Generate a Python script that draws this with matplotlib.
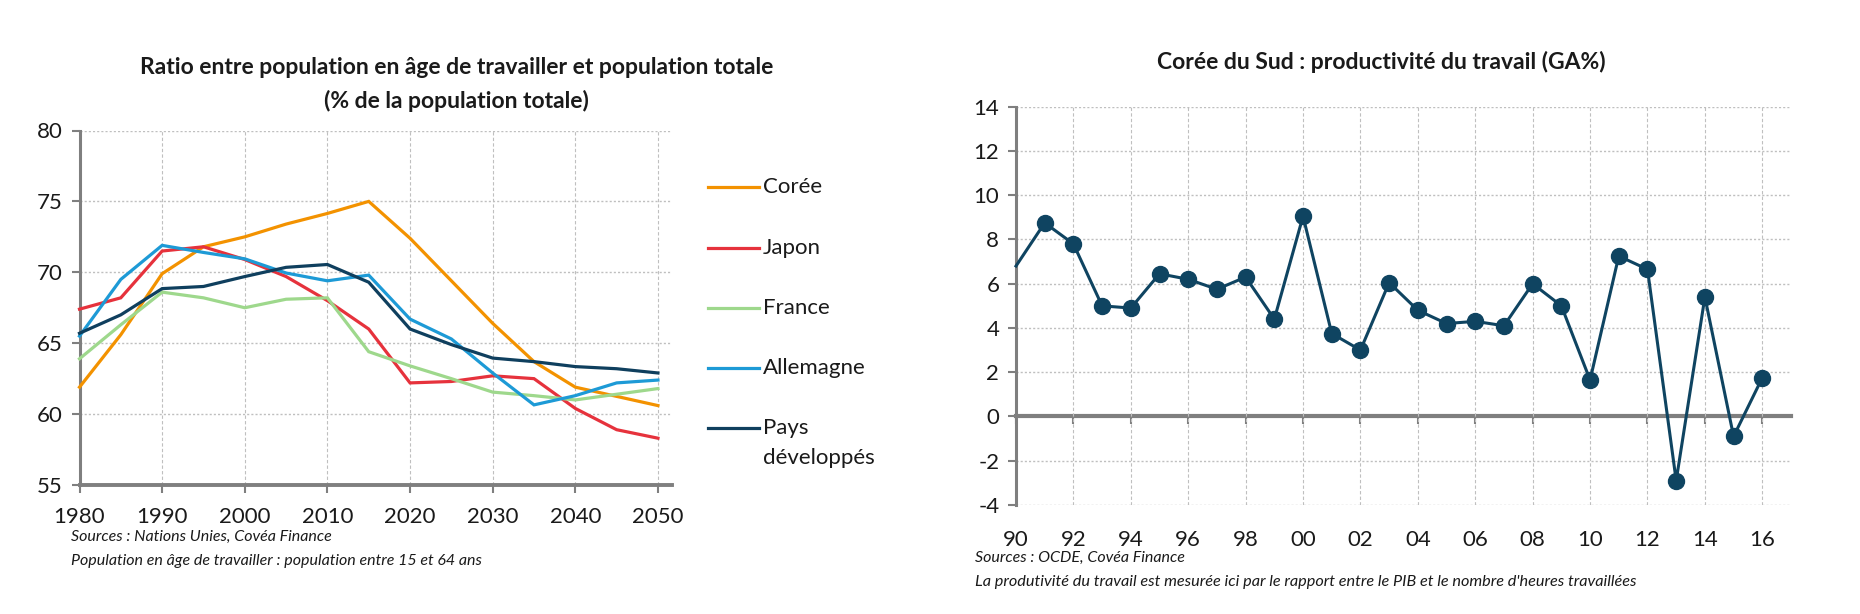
import matplotlib
matplotlib.use("Agg")
import matplotlib.pyplot as plt
from matplotlib.lines import Line2D

plt.rcParams['font.family'] = ['Lato', 'DejaVu Sans']
plt.rcParams['axes.unicode_minus'] = False

# ---- Left chart data ----
years_left = [1980, 1985, 1990, 1995, 2000, 2005, 2010, 2015, 2020, 2025, 2030, 2035, 2040, 2045, 2050]
coree = [61.9, 65.6, 69.9, 71.8, 72.5, 73.4, 74.15, 75.0, 72.4, 69.4, 66.4, 63.7, 61.9, 61.25, 60.6]
japon = [67.4, 68.2, 71.5, 71.8, 70.9, 69.7, 68.0, 66.0, 62.2, 62.3, 62.7, 62.5, 60.4, 58.9, 58.3]
france = [63.9, 66.3, 68.6, 68.2, 67.5, 68.1, 68.2, 64.4, 63.4, 62.5, 61.55, 61.3, 61.0, 61.4, 61.8]
allemagne = [65.5, 69.5, 71.9, 71.4, 70.95, 69.95, 69.4, 69.8, 66.7, 65.3, 62.9, 60.65, 61.3, 62.2, 62.4]
pays_dev = [65.7, 67.0, 68.85, 69.0, 69.7, 70.35, 70.55, 69.3, 66.0, 64.9, 63.95, 63.7, 63.35, 63.2, 62.9]
series_names = ["Corée", "Japon", "France", "Allemagne", "Pays\ndéveloppés"]
series_colors = ["#F39200", "#E6323C", "#9ED88C", "#1D9AD6", "#0F3F5E"]
left_xticks = [1980, 1990, 2000, 2010, 2020, 2030, 2040, 2050]
left_yticks = [55, 60, 65, 70, 75, 80]

# ---- Right chart data ----
years_right = list(range(1990, 2017))
productivite = [6.8, 8.75, 7.8, 5.0, 4.9, 6.45, 6.2, 5.75, 6.3, 4.4, 9.05, 3.75, 3.0,
                6.05, 4.8, 4.2, 4.3, 4.1, 6.0, 5.0, 1.65, 7.25, 6.65, -2.9, 5.4, -0.9, 1.75]
right_xticks = list(range(1990, 2017, 2))
right_xlabels = ["90", "92", "94", "96", "98", "00", "02", "04", "06", "08", "10", "12", "14", "16"]
right_yticks = list(range(-4, 15, 2))

W, H = 1860, 614
fig = plt.figure(figsize=(W / 100, H / 100), dpi=100)
fig.patch.set_facecolor("white")

grey = "#7F7F7F"
gridc = "#BFBFBF"
txt = "#1A1A1A"

# ================= LEFT =================
axL = fig.add_axes([79.5 / W, 1 - 485 / H, (672 - 79.5) / W, (485 - 130.5) / H])
for name, vals, col in zip(series_names, [coree, japon, france, allemagne, pays_dev], series_colors):
    axL.plot(years_left, vals, color=col, lw=2.3, solid_joinstyle="miter", zorder=3, clip_on=False)
axL.set_xlim(1980, 2051.7)
axL.set_ylim(55, 80)
axL.set_xticks(left_xticks)
axL.set_yticks(left_yticks)
for y in left_yticks[1:]:
    axL.axhline(y, color=gridc, lw=1.0, ls=(0, (1.5, 1.5)), zorder=1)
for x in left_xticks[1:]:
    axL.axvline(x, color=gridc, lw=0.8, ls=(0, (3, 2)), zorder=1)
for s in ["top", "right"]:
    axL.spines[s].set_visible(False)
axL.spines["left"].set_color(grey)
axL.spines["left"].set_linewidth(2.2)
axL.spines["bottom"].set_color(grey)
axL.spines["bottom"].set_linewidth(2.8)
axL.tick_params(axis="both", colors=grey, length=6, width=1.5, labelcolor=txt, labelsize=16)
axL.tick_params(axis="x", pad=10)
axL.tick_params(axis="y", pad=6)

fig.text(456.6 / W, 1 - 67.6 / H, "Ratio entre population en âge de travailler et population totale",
         ha="center", va="center", fontsize=16.5, fontweight="bold", color=txt)
fig.text(456.6 / W, 1 - 100.8 / H, "(% de la population totale)",
         ha="center", va="center", fontsize=16.5, fontweight="bold", color=txt)

# manual legend
leg_y = [187, 248, 308, 368, 428]
for name, col, yy in zip(series_names, series_colors, leg_y):
    fy = 1 - yy / H
    fig.add_artist(Line2D([708 / W, 759 / W], [fy, fy], color=col, lw=2.3))
    lines = name.split("\n")
    for i, ln in enumerate(lines):
        fig.text(763 / W, 1 - (yy + i * 30) / H, ln, ha="left", va="center", fontsize=16, color=txt)

fig.text(71 / W, 1 - 537 / H, "Sources : Nations Unies, Covéa Finance", ha="left", va="center",
         fontsize=11.5, style="italic", color=txt)
fig.text(71 / W, 1 - 561 / H, "Population en âge de travailler : population entre 15 et 64 ans",
         ha="left", va="center", fontsize=11.5, style="italic", color=txt)

# ================= RIGHT =================
axR = fig.add_axes([1016 / W, 1 - 505 / H, (1791 - 1016) / W, (505 - 106.7) / H])
axR.set_xlim(1990, 2017)
axR.set_ylim(-4, 14)
for y in right_yticks:
    if y != 0:
        axR.axhline(y, color=gridc, lw=1.0, ls=(0, (1.5, 1.5)), zorder=1)
for x in right_xticks[1:]:
    axR.axvline(x, color=gridc, lw=0.8, ls=(0, (3, 2)), zorder=1)
axR.plot(years_right, productivite, color="#0F4461", lw=2.2, marker="o", ms=11.5,
         markevery=list(range(1, len(years_right))), zorder=4, clip_on=False)
axR.set_xticks(right_xticks)
axR.set_xticklabels(right_xlabels)
axR.set_yticks(right_yticks)
for s in ["top", "right", "bottom"]:
    axR.spines[s].set_visible(False)
axR.spines["left"].set_color(grey)
axR.spines["left"].set_linewidth(2.2)
axR.tick_params(axis="y", colors=grey, length=6, width=1.5, labelcolor=txt, labelsize=16, pad=6)
axR.tick_params(axis="x", length=0, labelcolor=txt, labelsize=16, pad=18)

sec = axR.secondary_xaxis(4 / 18)
sec.set_xticks(right_xticks)
sec.tick_params(axis="x", colors=grey, length=6, width=1.5, labelbottom=False)
sec.spines["bottom"].set_color(grey)
sec.spines["bottom"].set_linewidth(3.0)

fig.text(1381.7 / W, 1 - 61.7 / H, "Corée du Sud : productivité du travail (GA%)",
         ha="center", va="center", fontsize=16.5, fontweight="bold", color=txt)
fig.text(975 / W, 1 - 558 / H, "Sources : OCDE, Covéa Finance", ha="left", va="center",
         fontsize=11.5, style="italic", color=txt)
fig.text(975 / W, 1 - 582 / H,
         "La produtivité du travail est mesurée ici par le rapport entre le PIB et le nombre d'heures travaillées",
         ha="left", va="center", fontsize=11.7, style="italic", color=txt)

fig.savefig("out.png", dpi=100, facecolor="white")
